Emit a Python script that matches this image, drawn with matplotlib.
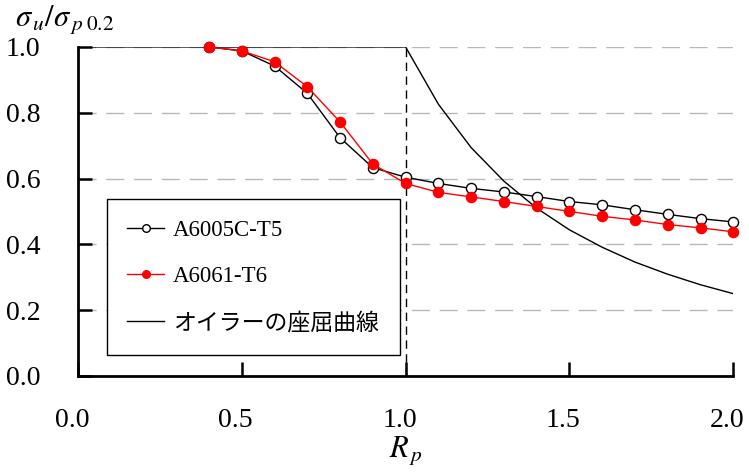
import matplotlib
matplotlib.use("Agg")
import matplotlib.pyplot as plt
import matplotlib.transforms as mtransforms
from matplotlib.font_manager import FontProperties

plt.rcParams['font.family'] = ['Liberation Serif', 'Noto Sans CJK JP']
plt.rcParams['mathtext.fontset'] = 'stix'

# slenderness ratio R_p and normalised strength
rp = [0.4, 0.5, 0.6, 0.7, 0.8, 0.9, 1.0, 1.1, 1.2, 1.3, 1.4,
      1.5, 1.6, 1.7, 1.8, 1.9, 2.0]
a6005c_t5 = [1.000, 0.988, 0.942, 0.859, 0.724, 0.633, 0.604, 0.585, 0.570,
             0.559, 0.545, 0.530, 0.520, 0.505, 0.491, 0.478, 0.468]
a6061_t6 = [1.000, 0.988, 0.955, 0.879, 0.772, 0.644, 0.585, 0.558, 0.544,
            0.530, 0.515, 0.500, 0.485, 0.474, 0.460, 0.450, 0.438]

# Euler buckling curve
euler_rp = [0.0, 1.0, 1.1, 1.2, 1.3, 1.4, 1.5, 1.6, 1.7, 1.8, 1.9, 2.0]
euler_val = [1.0, 1.0, 0.826, 0.694, 0.592, 0.510, 0.444, 0.391, 0.346,
             0.309, 0.277, 0.250]

xticks = [0.0, 0.5, 1.0, 1.5, 2.0]
yticks = [0.0, 0.2, 0.4, 0.6, 0.8, 1.0]

fig = plt.figure(figsize=(7.49, 4.74), dpi=100)
ax = fig.add_axes([0.104, 0.207, 0.875, 0.694])

for y in yticks[1:]:
    ax.axhline(y, color='#b8b8b8', lw=1.0, dashes=(13, 7), zorder=0)

ax.plot([1.0, 1.0], [0.0, 1.0], color='black', lw=1.0, dashes=(6, 4))
ax.plot(rp, a6005c_t5, color='black', lw=1.0, marker='o', ms=7.3,
        mfc='white', mec='black', mew=1.0, label='A6005C-T5', clip_on=False, zorder=3)
ax.plot(rp, a6061_t6, color='red', lw=1.0, marker='o', ms=7.3,
        mfc='red', mec='red', label='A6061-T6', clip_on=False, zorder=4)
ax.plot(euler_rp, euler_val, color='black', lw=1.0, label='オイラーの座屈曲線', zorder=2)

ax.set_xlim(0, 2.0)
ax.set_ylim(0, 1.0)
ax.set_xticks(xticks)
ax.set_yticks(yticks)
ax.set_xticklabels([f'{v:.1f}' for v in xticks])
ax.set_yticklabels([f'{v:.1f}' for v in yticks])
ax.tick_params(direction='in', length=10, width=1.8, labelsize=20)
ax.tick_params(axis='x', pad=23)
ax.tick_params(axis='y', pad=27)
for side in ['top', 'right']:
    ax.spines[side].set_visible(False)
for side in ['left', 'bottom']:
    ax.spines[side].set_linewidth(2.0)

# nudge the x tick labels a little to the left so 2.0 stays inside
shift = mtransforms.ScaledTranslation(-6 / 100, 0, fig.dpi_scale_trans)
for lbl in ax.get_xticklabels():
    lbl.set_transform(lbl.get_transform() + shift)

ax.set_xlabel('$R_{\\,p}$', fontsize=22, labelpad=1)
fig.text(0.02, 0.925, '$\\sigma_{\\,u}/\\sigma_{\\,p\\;0.2}$', fontsize=22, ha='left', va='bottom')

leg_font = FontProperties(family=['Liberation Serif', 'Noto Sans CJK JP'], size=16.5)
leg = ax.legend(loc='lower left', bbox_to_anchor=(0.044, 0.064), prop=leg_font,
                frameon=True, fancybox=False, edgecolor='black', framealpha=1,
                handlelength=1.6, handletextpad=0.4, labelspacing=1.1,
                borderpad=0.9, borderaxespad=0, markerscale=0.75)
leg.get_frame().set_linewidth(1.0)

fig.savefig('out.png', dpi=100)
